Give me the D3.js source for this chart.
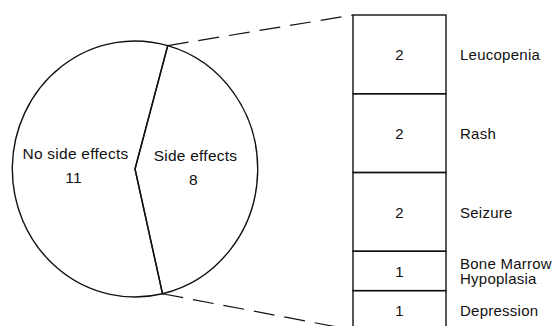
<!DOCTYPE html>
<html>
<head>
<meta charset="utf-8">
<script src="https://cdn.jsdelivr.net/npm/d3@7"></script>
<style>
  body { margin: 0; background: #fff; }
  text { font-family: "Liberation Sans", Arial, sans-serif; fill: #111; letter-spacing: 0.25px; }
</style>
</head>
<body>
<svg width="554" height="326"></svg>
<script>
const svg = d3.select("svg");

// pie data
const pieLabels = ["Side effects", "No side effects"];
const pieValues = [8, 11];

// breakdown of side effects
const effectLabels = ["Leucopenia", "Rash", "Seizure", "Bone Marrow|Hypoplasia", "Depression"];
const effectCounts = [2, 2, 2, 1, 1];

const cx = 135, cy = 169, rx = 122.7, ry = 128;
const startA = 0.27;

const pie = d3.pie().sort(null).startAngle(startA).endAngle(startA + 2 * Math.PI);
const arcs = pie(pieValues);
const arc = d3.arc().innerRadius(0).outerRadius(rx);
const labelArc = d3.arc().innerRadius(60).outerRadius(60);

const pieG = svg.append("g")
    .attr("transform", `translate(${cx},${cy}) scale(1,${ry / rx})`);

pieG.selectAll("path")
    .data(arcs)
    .join("path")
    .attr("d", arc)
    .attr("fill", "none")
    .attr("stroke", "#111")
    .attr("stroke-width", 1.4)
    .attr("vector-effect", "non-scaling-stroke");

// labels (kept outside the scaled group)
const pl = svg.append("g").attr("text-anchor", "middle").style("font-size", "15.5px");
arcs.forEach((d, i) => {
    const [lx, ly] = labelArc.centroid(d);
    const x = cx + lx, y = cy + ly * ry / rx;
    pl.append("text").attr("x", x + 0.5).attr("y", y - 9).text(pieLabels[i]);
    pl.append("text").attr("x", x - 1.5).attr("y", y + 15).text(pieValues[i]);
});

// stacked bar
const barX0 = 353, barX1 = 446;
const total = d3.sum(effectCounts);
const y = d3.scaleLinear().domain([0, total]).range([15, 330]);
const cum = d3.cumsum(effectCounts);
const segs = effectCounts.map((v, i) => ({ label: effectLabels[i], v, y0: cum[i] - v, y1: cum[i] }));

const bar = svg.append("g");
bar.selectAll("rect")
    .data(segs)
    .join("rect")
    .attr("x", barX0)
    .attr("width", barX1 - barX0)
    .attr("y", d => y(d.y0))
    .attr("height", d => y(d.y1) - y(d.y0))
    .attr("fill", "none")
    .attr("stroke", "#111")
    .attr("stroke-width", 1.4);

bar.selectAll("text.num")
    .data(segs)
    .join("text")
    .attr("class", "num")
    .attr("x", (barX0 + barX1) / 2)
    .attr("y", d => (y(d.y0) + y(d.y1)) / 2)
    .attr("dy", "0.38em")
    .attr("text-anchor", "middle")
    .style("font-size", "15px")
    .text(d => d.v);

const labX = barX0 + 107;
bar.selectAll("text.lab")
    .data(segs)
    .join("text")
    .attr("class", "lab")
    .attr("x", labX)
    .attr("y", d => (y(d.y0) + y(d.y1)) / 2)
    .style("font-size", "15px")
    .each(function (d) {
        const lines = d.label.split("|");
        const t = d3.select(this);
        lines.forEach((ln, j) => {
            t.append("tspan")
                .attr("x", labX)
                .attr("dy", j === 0 ? `${0.38 - (lines.length - 1) * 0.48}em` : "0.96em")
                .text(ln);
        });
    });

// dashed connectors from the side-effects slice to the bar
const side = arcs[0];
function edgePoint(a) {
    return [cx + rx * Math.sin(a), cy - ry * Math.cos(a)];
}
const pTop = edgePoint(side.startAngle);
const pBot = edgePoint(side.endAngle);
svg.append("g")
    .attr("stroke", "#111")
    .attr("stroke-width", 1.2)
    .attr("stroke-dasharray", "21,10")
    .selectAll("line")
    .data([[pTop, [barX0, y(0)]], [pBot, [barX0, y(total)]]])
    .join("line")
    .attr("x1", d => d[0][0]).attr("y1", d => d[0][1])
    .attr("x2", d => d[1][0]).attr("y2", d => d[1][1]);
</script>
</body>
</html>
